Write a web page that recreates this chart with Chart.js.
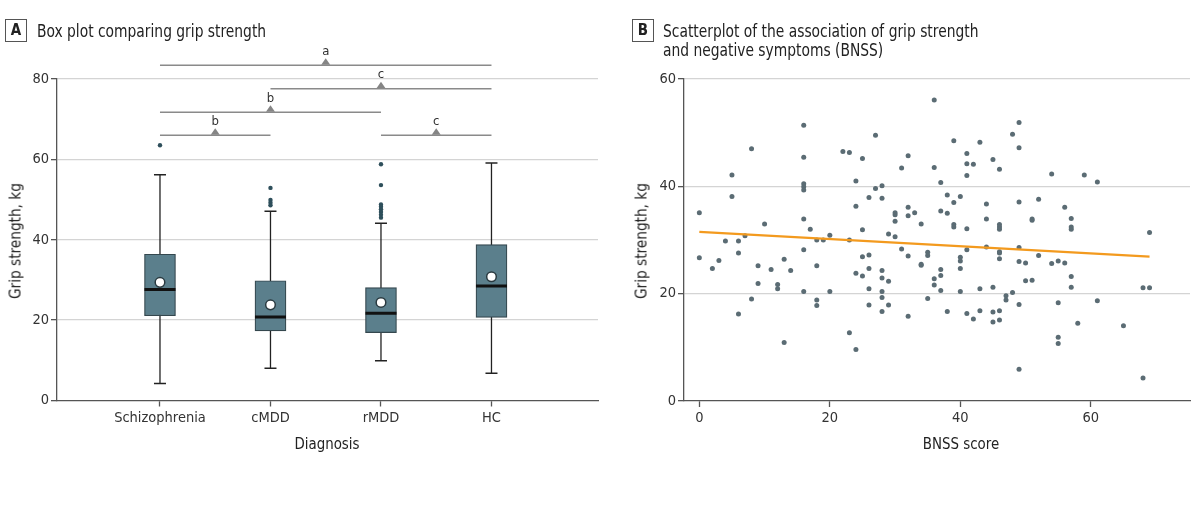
<!DOCTYPE html>
<html><head><meta charset="utf-8">
<script src="https://cdn.jsdelivr.net/npm/chart.js@4.4.1/dist/chart.umd.min.js"></script>
<style>
html,body{margin:0;padding:0;background:#fff;}
body{width:1200px;height:517px;position:relative;overflow:hidden;font-family:'Liberation Sans Narrow','DejaVu Sans Condensed',sans-serif;color:#222;}
.wrap{position:absolute;top:0;width:600px;height:517px;}
#wA{left:0;} #wB{left:600px;}
.badge{position:absolute;box-sizing:border-box;border:1.3px solid #555;font-weight:bold;font-size:15px;text-align:center;line-height:20px;width:22px;height:23px;color:#222;}
.ttl{position:absolute;font-size:17px;line-height:19px;white-space:nowrap;color:#222;transform:scaleX(0.905);transform-origin:0 0;}
.axt{position:absolute;font-size:16px;white-space:nowrap;color:#222;transform:translate(-50%,-50%) scaleX(0.93);}
.rot{transform:translate(-50%,-50%) rotate(-90deg) scaleX(0.95);}
</style></head>
<body>
<div class="wrap" id="wA"><canvas id="cA"></canvas></div>
<div class="wrap" id="wB"><canvas id="cB"></canvas></div>
<div class="badge" style="left:5px;top:19px;">A</div>
<div class="ttl" style="left:37px;top:22px;">Box plot comparing grip strength</div>
<div class="badge" style="left:632px;top:19px;">B</div>
<div class="ttl" style="left:663px;top:22px;">Scatterplot of the association of grip strength<br>and negative symptoms (BNSS)</div>
<div class="axt rot" style="left:15px;top:241px;">Grip strength, kg</div>
<div class="axt" style="left:327px;top:443px;">Diagnosis</div>
<div class="axt rot" style="left:641px;top:241px;">Grip strength, kg</div>
<div class="axt" style="left:961px;top:443px;">BNSS score</div>
<script>
// ---- Panel A data ----
const categories = ['Schizophrenia','cMDD','rMDD','HC'];
const whiskerLow  = [4.2, 8.0, 9.9, 6.8];
const q1          = [21.1, 17.3, 16.9, 20.7];
const median      = [27.6, 20.8, 21.7, 28.5];
const q3          = [36.4, 29.8, 28.1, 38.8];
const whiskerHigh = [56.2, 47.1, 44.1, 59.1];
const means       = [29.4, 23.8, 24.4, 30.8];
const outliers    = [[63.5],[52.9,49.9,49.2,48.6],[58.8,53.6,48.8,48.2,47.6,46.9,46.2,45.5],[]];
const bracketFrom  = [1, 2, 1, 1, 3];
const bracketTo    = [4, 4, 3, 2, 4];
const bracketY     = [83.4, 77.6, 71.7, 66.0, 66.0];
const bracketLabel = ['a', 'c', 'b', 'b', 'c'];
const yTicksA = [0, 20, 40, 60, 80];

// ---- Panel B data ----
const bnss = [
 0,0, 2, 3, 4, 5,5, 6,6,6, 7, 8,8, 9,9, 10, 11, 12,12, 13,13, 14,
 16,16,16,16,16,16,16,16, 17, 18,18,18,18, 19, 20,20, 22, 23,23,23,
 24,24,24,24, 25,25,25,25, 26,26,26,26,26, 27,27, 28,28,28,28,28,28,28,
 29,29,29, 30,30,30,30, 31,31, 32,32,32,32,32, 33, 34,34,34, 35,35,35,
 36,36,36,36, 37,37,37,37,37, 38,38,38, 39,39,39,39, 40,40,40,40,40,
 41,41,41,41,41,41, 42,42, 43,43,43, 44,44,44, 45,45,45,45,
 46,46,46,46,46,46,46,46,46, 47,47, 48,48, 49,49,49,49,49,49,49,
 50,50, 51,51,51, 52,52, 54,54, 55,55,55,55, 56,56, 57,57,57,57,57,
 58, 59, 61,61, 65, 68,68, 69,69
];
const grip = [
 35.1,26.7, 24.7, 26.2, 29.8, 42.1,38.1, 29.8,27.6,16.2, 30.8, 47.0,19.0, 25.2,21.9, 33.0, 24.5, 21.7,20.9, 26.4,10.9, 24.3,
 51.4,45.4,40.5,39.9,39.3,33.9,28.2,20.4, 32.0, 30.0,25.2,18.8,17.8, 30.0, 30.9,20.4, 46.5, 46.3,30.0,12.7,
 41.0,36.3,23.8,9.6, 45.2,31.9,26.9,23.3, 37.9,27.2,24.7,20.9,17.9, 49.5,39.6, 40.1,37.8,24.3,22.9,20.4,19.3,16.7,
 31.1,22.3,17.9, 35.1,34.7,33.5,30.6, 43.4,28.3, 45.7,36.1,34.5,27.0,15.8, 35.1, 33.0,25.5,25.3, 27.7,27.1,19.1,
 56.1,43.5,22.8,21.6, 40.7,35.4,24.5,23.4,20.6, 38.4,35.0,16.7, 48.5,37.0,32.9,32.4, 38.1,26.8,26.1,24.7,20.4,
 46.1,44.2,42.0,32.1,28.2,16.3, 44.1,15.3, 48.2,20.9,16.8, 36.7,33.9,28.7, 45.0,21.2,16.6,14.7,
 43.2,32.9,32.4,32.0,27.8,27.6,26.5,16.8,15.1, 19.6,18.8, 49.7,20.2, 51.9,47.2,37.1,28.6,26.0,18.0,5.9,
 25.7,22.4, 33.9,33.7,22.5, 37.6,27.1, 42.3,25.6, 26.1,18.3,11.9,10.7, 36.1,25.7, 34.0,32.4,32.0,23.2,21.2,
 14.5, 42.1, 40.8,18.7, 14.0, 21.1,4.3, 31.4,21.1
];
const regX = [0, 69];
const regY = [31.5, 26.9];
const xTicksB = [0, 20, 40, 60];
const yTicksB = [0, 20, 40, 60];

// ---- shared style ----
const FONT = "'Liberation Sans Narrow','DejaVu Sans Condensed',sans-serif";
const AXIS = '#555';
const GRID = '#d4d4d4';
const tickFont = {family: FONT, size: 14.5};
const gridColor = c => (c.tick && c.tick.value === 0) ? 'rgba(0,0,0,0)' : GRID;
Chart.defaults.font.family = FONT;
Chart.defaults.color = '#333';

const bracketPlugin = {
  id: 'brackets',
  afterDatasetsDraw(chart) {
    const {ctx} = chart;
    const xs = chart.scales.x, ys = chart.scales.y;
    ctx.save();
    bracketFrom.forEach((f, i) => {
      const mx = xs.getPixelForValue((f + bracketTo[i]) / 2);
      const py = ys.getPixelForValue(bracketY[i]);
      ctx.fillStyle = '#858585';
      ctx.beginPath();
      ctx.moveTo(mx - 4.5, py - 0.5);
      ctx.lineTo(mx + 4.5, py - 0.5);
      ctx.lineTo(mx, py - 7);
      ctx.closePath();
      ctx.fill();
      ctx.fillStyle = '#333';
      ctx.font = '13px ' + FONT;
      ctx.textAlign = 'center';
      ctx.textBaseline = 'middle';
      ctx.fillText(bracketLabel[i], mx, py - 14);
    });
    ctx.restore();
  }
};

// ---- Panel A ----
const whiskerData = [];
categories.forEach((c, i) => {
  whiskerData.push({x: i + 1, y: whiskerLow[i]}, {x: i + 1, y: whiskerHigh[i]}, {x: i + 1, y: null});
});
const capData = [];
categories.forEach((c, i) => { capData.push({x: i + 1, y: whiskerLow[i]}, {x: i + 1, y: whiskerHigh[i]}); });
const outlierData = [];
outliers.forEach((arr, i) => arr.forEach(v => outlierData.push({x: i + 1, y: v})));

const bracketSets = bracketFrom.map((f, i) => ({
  type: 'line',
  data: [{x: f, y: bracketY[i]}, {x: bracketTo[i], y: bracketY[i]}],
  borderColor: '#8a8a8a', borderWidth: 1.5, pointRadius: 0, clip: false, order: 2
}));

new Chart(document.getElementById('cA'), {
  type: 'scatter',
  data: {
    datasets: [
      {type: 'line', data: whiskerData, borderColor: '#222', borderWidth: 1.3, pointRadius: 0, spanGaps: false, order: 10},
      {type: 'bar', data: categories.map((c, i) => ({x: i + 1, y: [q1[i], q3[i]]})),
       backgroundColor: '#5b7f8c', borderColor: '#34474e', borderWidth: 1.2, borderSkipped: false,
       barThickness: 31, order: 8},
      {data: capData, pointStyle: 'line', pointRadius: 6, borderColor: '#222', pointBorderColor: '#222', pointBorderWidth: 1.5, borderWidth: 1.5, order: 6},
      {data: categories.map((c, i) => ({x: i + 1, y: median[i]})), pointStyle: 'line', pointRadius: 15.5,
       borderColor: '#111', pointBorderColor: '#111', borderWidth: 3, pointBorderWidth: 3, order: 4},
      {data: categories.map((c, i) => ({x: i + 1, y: means[i]})), pointStyle: 'circle', pointRadius: 4.8,
       backgroundColor: '#fff', borderColor: '#2a3a40', borderWidth: 1.5, order: 3},
      {data: outlierData, pointStyle: 'circle', pointRadius: 2.2, backgroundColor: '#2e4f5b', borderWidth: 0, clip: false, order: 3},
      ...bracketSets
    ]
  },
  options: {
    responsive: true, maintainAspectRatio: false, animation: false,
    events: [],
    layout: {padding: {top: 79, right: 2, left: 0, bottom: 0}, autoPadding: false},
    plugins: {legend: {display: false}, tooltip: {enabled: false}},
    scales: {
      x: {
        type: 'linear', min: 0.068, max: 4.964, offset: false,
        afterBuildTicks: s => { s.ticks = categories.map((c, i) => ({value: i + 1})); },
        afterFit: s => { s.height = 116.5; s.paddingLeft = 0; s.paddingRight = 0; },
        ticks: {font: tickFont, color: '#333', padding: 3, maxRotation: 0, autoSkip: false,
                callback: v => categories[v - 1]},
        grid: {offset: false, drawOnChartArea: false, drawTicks: true, tickLength: 6, tickColor: AXIS, tickWidth: 1.3},
        border: {display: true, color: AXIS, width: 1.3}
      },
      y: {
        type: 'linear', min: 0, max: 80,
        afterBuildTicks: s => { s.ticks = yTicksA.map(v => ({value: v})); },
        afterFit: s => { s.width = 57; },
        ticks: {font: tickFont, color: '#333', padding: 2},
        grid: {color: gridColor, lineWidth: 1.3, drawTicks: true, tickLength: 6, tickColor: AXIS, tickWidth: 1.3},
        border: {display: true, color: AXIS, width: 1.3}
      }
    }
  },
  plugins: [bracketPlugin]
});

// ---- Panel B ----
new Chart(document.getElementById('cB'), {
  type: 'scatter',
  data: {
    datasets: [
      {type: 'line', data: regX.map((v, i) => ({x: v, y: regY[i]})), borderColor: '#f39a1e', borderWidth: 2.2, pointRadius: 0, order: 1},
      {data: bnss.map((v, i) => ({x: v, y: grip[i]})), pointStyle: 'circle', pointRadius: 2.5,
       backgroundColor: '#5b6c74', borderWidth: 0, order: 2}
    ]
  },
  options: {
    responsive: true, maintainAspectRatio: false, animation: false,
    events: [],
    layout: {padding: {top: 79, right: 10, left: 0, bottom: 0}, autoPadding: false},
    plugins: {legend: {display: false}, tooltip: {enabled: false}},
    scales: {
      x: {
        type: 'linear', min: -2.35, max: 75.2,
        afterBuildTicks: s => { s.ticks = xTicksB.map(v => ({value: v})); },
        afterFit: s => { s.height = 116; },
        ticks: {font: tickFont, color: '#333', padding: 3, maxRotation: 0},
        grid: {drawOnChartArea: false, drawTicks: true, tickLength: 6, tickColor: AXIS, tickWidth: 1.3},
        border: {display: true, color: AXIS, width: 1.3}
      },
      y: {
        type: 'linear', min: 0, max: 60,
        afterBuildTicks: s => { s.ticks = yTicksB.map(v => ({value: v})); },
        afterFit: s => { s.width = 84; },
        ticks: {font: tickFont, color: '#333', padding: 2},
        grid: {color: gridColor, lineWidth: 1.3, drawTicks: true, tickLength: 6, tickColor: AXIS, tickWidth: 1.3},
        border: {display: true, color: AXIS, width: 1.3}
      }
    }
  }
});
</script>
</body></html>
